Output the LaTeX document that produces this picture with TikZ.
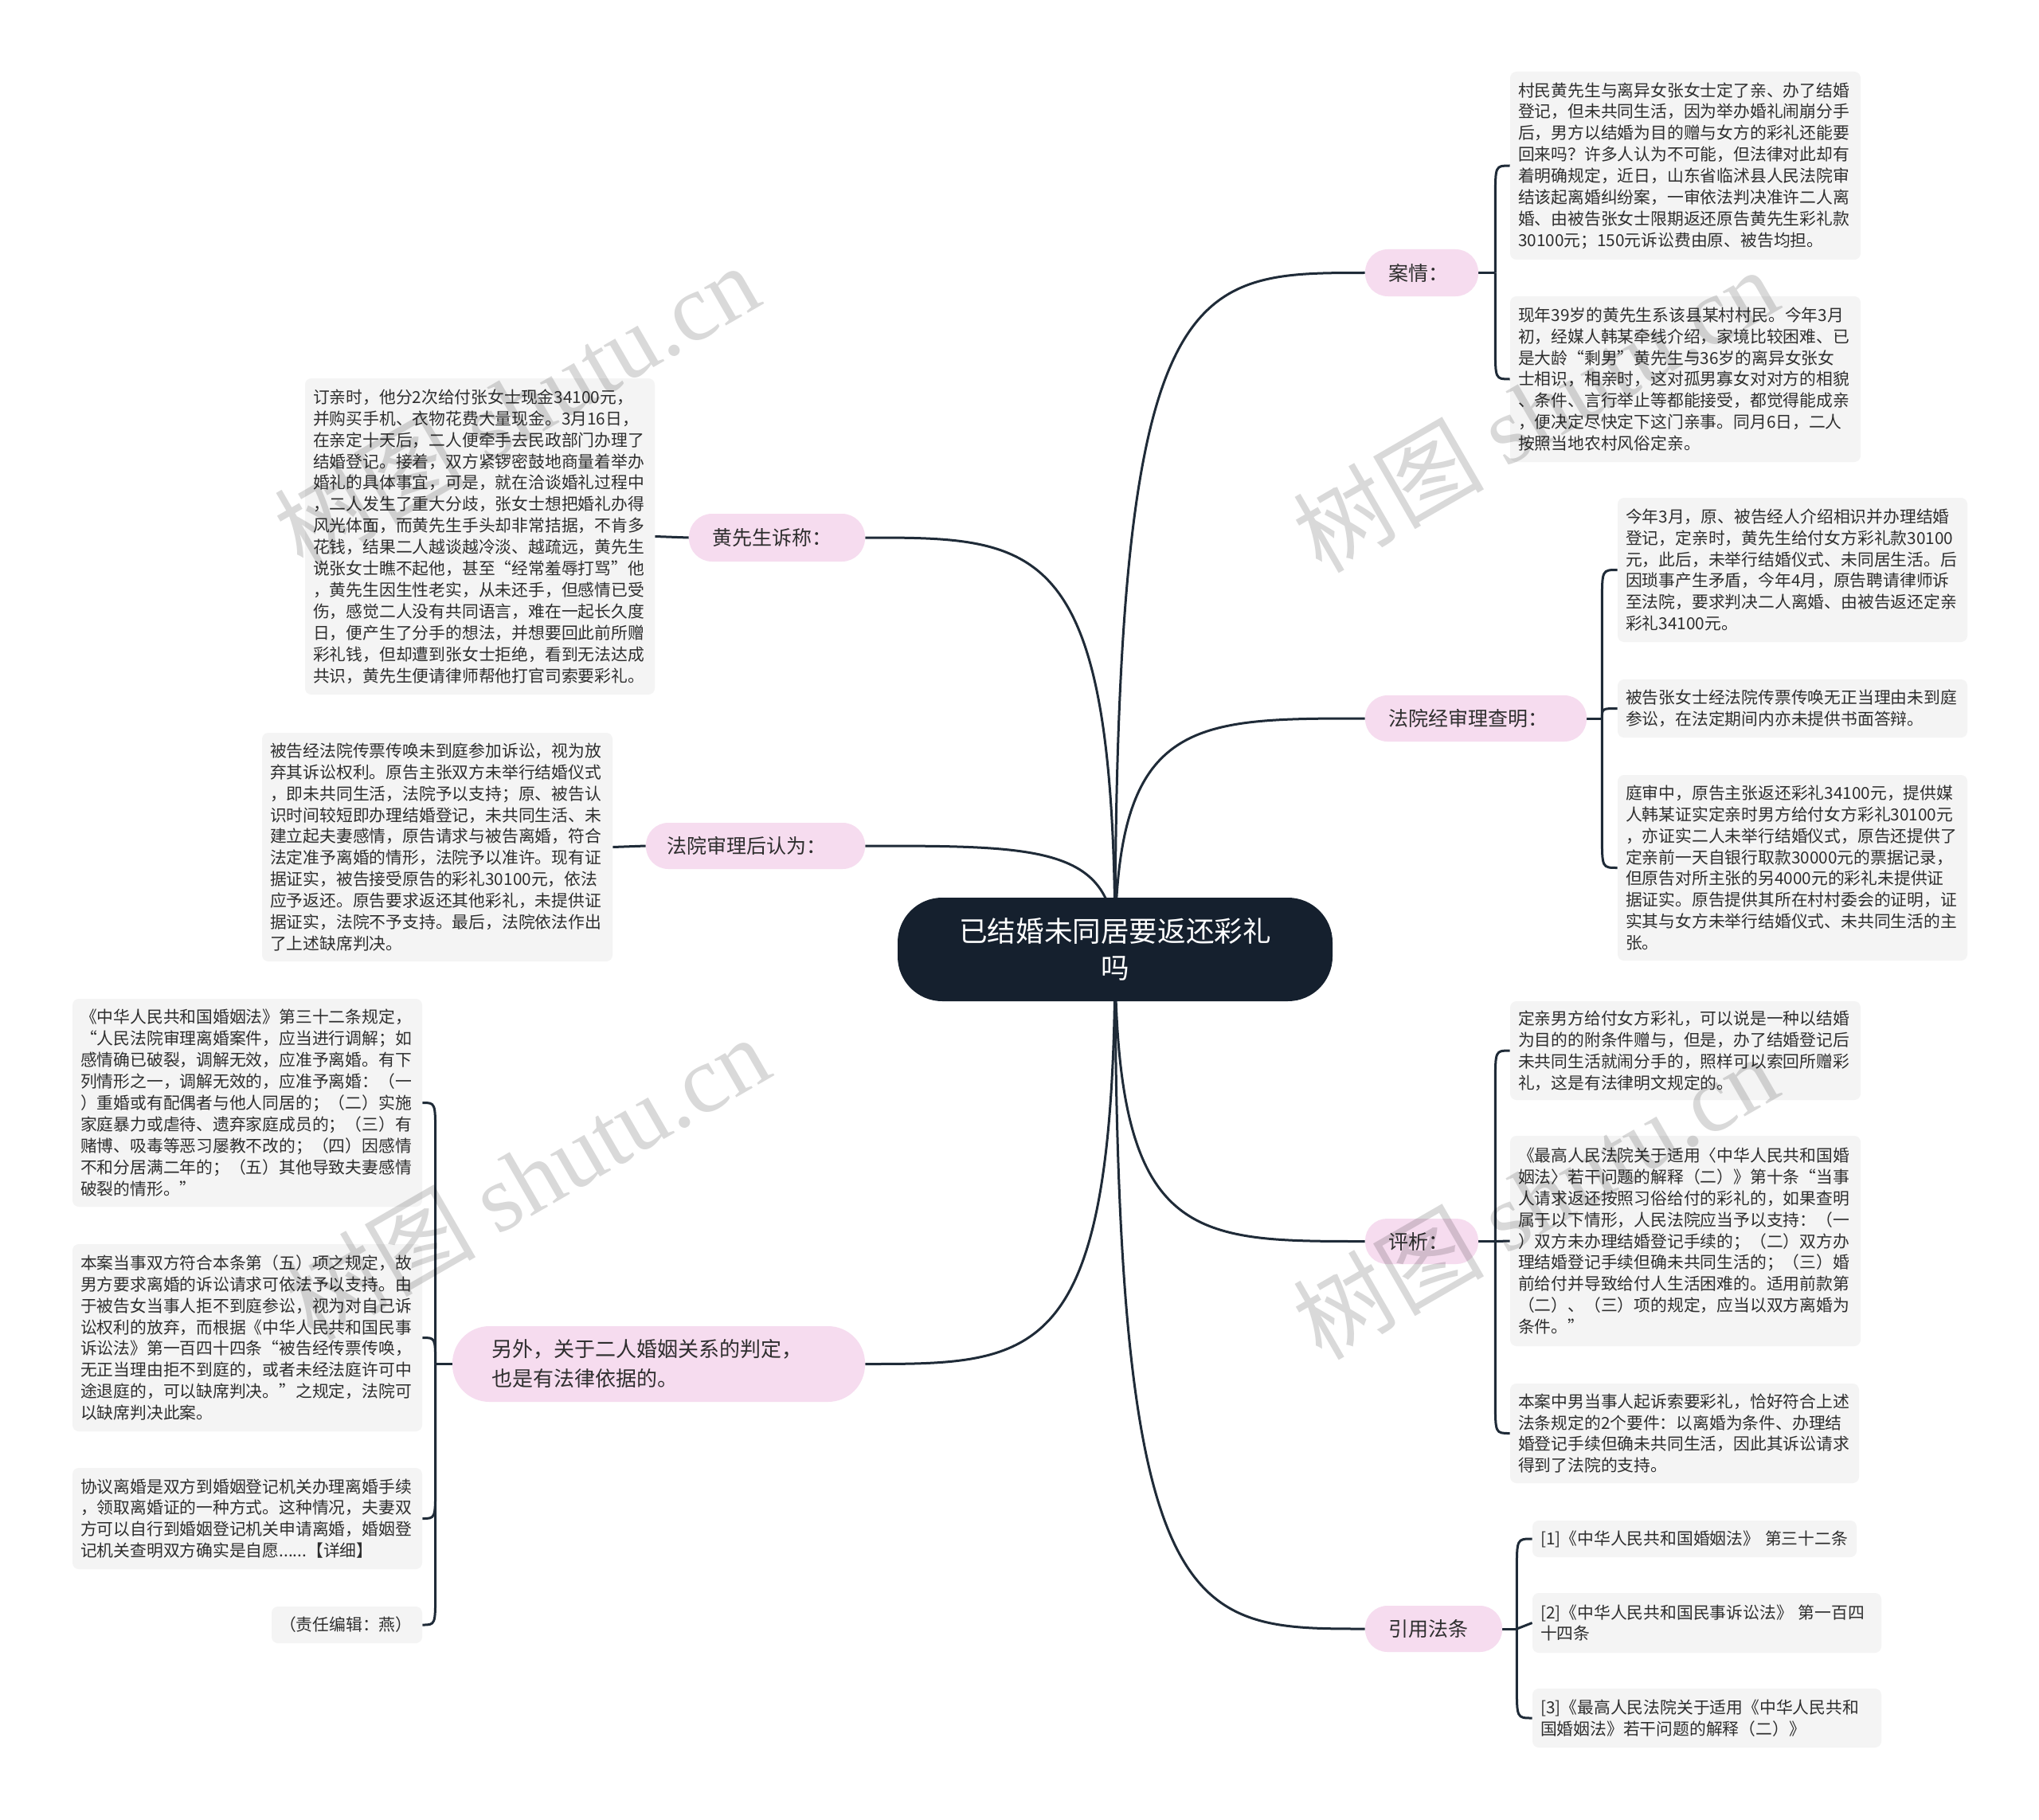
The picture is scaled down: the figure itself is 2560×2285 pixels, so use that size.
\documentclass[tikz,border=0pt]{standalone}
\usepackage{fontspec}
\newfontfamily\cjk{Noto Sans CJK SC}
\newfontfamily\wmserif{Liberation Serif}
\usetikzlibrary{backgrounds,calc}
\definecolor{linec}{HTML}{1F2B38}
\definecolor{rootc}{HTML}{15202E}
\definecolor{pinkc}{HTML}{F6DCEF}
\definecolor{leafc}{HTML}{F4F4F4}
\definecolor{txtc}{HTML}{2E2E2E}
\tikzset{
  leafbox/.style={rectangle, rounded corners=4pt, fill=leafc, inner xsep=5pt, inner ysep=0pt, align=left, text=txtc, font=\cjk\fontsize{10.4}{13.45}\selectfont},
  branchbox/.style={rectangle, fill=pinkc, inner ysep=0pt, align=left, text=txtc, font=\cjk\fontsize{12.5}{18.5}\selectfont},
  rootbox/.style={rectangle, rounded corners=28pt, fill=rootc, text=white, align=center, font=\cjk\fontsize{17.8}{22.9}\selectfont},
  conn/.style={draw=linec, line width=1.5pt},
  wm/.style={rotate=30, text=black, opacity=0.15, inner sep=0pt}
}
\newcommand\leafnode[6]{%
  \pgfmathsetmacro\xxw{(#4-#2)*0.5-10}%
  \pgfmathsetmacro\xxh{(#5-#3)*0.5}%
  \node[leafbox, text width=\xxw pt, minimum height=\xxh pt] (#1) at ({(#2+#4)/2},{(#3+#5)/2}) {#6};}
\newcommand\branchnode[7]{%
  \pgfmathsetmacro\xxw{(#4-#2-2*#6)*0.5}%
  \pgfmathsetmacro\xxh{(#5-#3)*0.5}%
  \pgfmathsetmacro\xxr{(#5-#3)*0.25-0.5}%
  \pgfmathsetmacro\xxp{#6*0.5}%
  \node[branchbox, rounded corners=\xxr pt, inner xsep=\xxp pt, text width=\xxw pt, minimum height=\xxh pt] (#1) at ({(#2+#4)/2},{(#3+#5)/2}) {#7};}
\newcommand\mcurve[2]{\draw[conn] (root.center) .. controls (root.center |- #1.#2) and ($(root.center |- #1.#2)!0.3!(#1.#2)$) .. (#1.#2);}
% leaf above junction / below junction / near
\newcommand\brup[3]{\draw[conn] (#1) -- ($(#1 |- #2.#3)+(0,40)$) .. controls (#1 |- #2.#3) .. (#2.#3);}
\newcommand\brdown[3]{\draw[conn] (#1) -- ($(#1 |- #2.#3)+(0,-40)$) .. controls (#1 |- #2.#3) .. (#2.#3);}
\newcommand\brnear[3]{\draw[conn] (#1) .. controls (#1 |- #2.#3) .. (#2.#3);}
\begin{document}
\begin{tikzpicture}[x=0.5pt, y=-0.5pt]
\useasboundingbox (0,0) rectangle (2560,2285);

% root
\node[rootbox, minimum width=273pt, minimum height=65pt] (root) at (1400,1192) {已结婚未同居要返还彩礼\\吗};

% branches
\branchnode{anq}{1714}{313}{1856}{372}{29}{案情：}
\branchnode{hx}{865}{645}{1086}{705}{29}{黄先生诉称：}
\branchnode{fy}{1714}{873}{1992}{931}{29}{法院经审理查明：}
\branchnode{fs}{811}{1033}{1086}{1091}{26}{法院审理后认为：}
\branchnode{px}{1714}{1530}{1856}{1587}{29}{评析：}
\branchnode{yy}{1714}{2016}{1886}{2074}{29}{引用法条}
\branchnode{lw}{568}{1665}{1086}{1760}{49}{\fontsize{13}{18.8}\selectfont 另外，关于二人婚姻关系的判定，\\也是有法律依据的。}

% leaves right
\leafnode{r1}{1896}{90}{2336}{326}{村民黄先生与离异女张女士定了亲、办了结婚\\登记，但未共同生活，因为举办婚礼闹崩分手\\后，男方以结婚为目的赠与女方的彩礼还能要\\回来吗？许多人认为不可能，但法律对此却有\\着明确规定，近日，山东省临沭县人民法院审\\结该起离婚纠纷案，一审依法判决准许二人离\\婚、由被告张女士限期返还原告黄先生彩礼款\\30100元；150元诉讼费由原、被告均担。}
\leafnode{r2}{1896}{372}{2336}{580}{现年39岁的黄先生系该县某村村民。今年3月\\初，经媒人韩某牵线介绍，家境比较困难、已\\是大龄“剩男”黄先生与36岁的离异女张女\\士相识，相亲时，这对孤男寡女对对方的相貌\\、条件、言行举止等都能接受，都觉得能成亲\\，便决定尽快定下这门亲事。同月6日，二人\\按照当地农村风俗定亲。}
\leafnode{r3}{2031}{625}{2470}{806}{今年3月，原、被告经人介绍相识并办理结婚\\登记，定亲时，黄先生给付女方彩礼款30100\\元，此后，未举行结婚仪式、未同居生活。后\\因琐事产生矛盾，今年4月，原告聘请律师诉\\至法院，要求判决二人离婚、由被告返还定亲\\彩礼34100元。}
\leafnode{r4}{2031}{853}{2470}{926}{被告张女士经法院传票传唤无正当理由未到庭\\参讼，在法定期间内亦未提供书面答辩。}
\leafnode{r5}{2031}{973}{2470}{1206}{庭审中，原告主张返还彩礼34100元，提供媒\\人韩某证实定亲时男方给付女方彩礼30100元\\，亦证实二人未举行结婚仪式，原告还提供了\\定亲前一天自银行取款30000元的票据记录，\\但原告对所主张的另4000元的彩礼未提供证\\据证实。原告提供其所在村村委会的证明，证\\实其与女方未举行结婚仪式、未共同生活的主\\张。}
\leafnode{r6}{1896}{1257}{2336}{1381}{定亲男方给付女方彩礼，可以说是一种以结婚\\为目的的附条件赠与，但是，办了结婚登记后\\未共同生活就闹分手的，照样可以索回所赠彩\\礼，这是有法律明文规定的。}
\leafnode{r7}{1896}{1426}{2336}{1690}{《最高人民法院关于适用〈中华人民共和国婚\\姻法〉若干问题的解释（二）》第十条“当事\\人请求返还按照习俗给付的彩礼的，如果查明\\属于以下情形，人民法院应当予以支持：（一\\）双方未办理结婚登记手续的；（二）双方办\\理结婚登记手续但确未共同生活的；（三）婚\\前给付并导致给付人生活困难的。适用前款第\\（二）、（三）项的规定，应当以双方离婚为\\条件。”}
\leafnode{r8}{1896}{1737}{2334}{1862}{本案中男当事人起诉索要彩礼，恰好符合上述\\法条规定的2个要件：以离婚为条件、办理结\\婚登记手续但确未共同生活，因此其诉讼请求\\得到了法院的支持。}
\leafnode{f1}{1924}{1909}{2331}{1955}{[1]《中华人民共和国婚姻法》~第三十二条}
\leafnode{f2}{1924}{2000}{2362}{2075}{[2]《中华人民共和国民事诉讼法》~第一百四\\十四条}
\leafnode{f3}{1924}{2120}{2362}{2194}{[3]《最高人民法院关于适用《中华人民共和\\国婚姻法》若干问题的解释（二）》}

% leaves left
\leafnode{l1}{383}{475}{822}{872}{订亲时，他分2次给付张女士现金34100元，\\并购买手机、衣物花费大量现金。3月16日，\\在亲定十天后，二人便牵手去民政部门办理了\\结婚登记。接着，双方紧锣密鼓地商量着举办\\婚礼的具体事宜，可是，就在洽谈婚礼过程中\\，二人发生了重大分歧，张女士想把婚礼办得\\风光体面，而黄先生手头却非常拮据，不肯多\\花钱，结果二人越谈越冷淡、越疏远，黄先生\\说张女士瞧不起他，甚至“经常羞辱打骂”他\\，黄先生因生性老实，从未还手，但感情已受\\伤，感觉二人没有共同语言，难在一起长久度\\日，便产生了分手的想法，并想要回此前所赠\\彩礼钱，但却遭到张女士拒绝，看到无法达成\\共识，黄先生便请律师帮他打官司索要彩礼。}
\leafnode{l2}{329}{920}{769}{1207}{被告经法院传票传唤未到庭参加诉讼，视为放\\弃其诉讼权利。原告主张双方未举行结婚仪式\\，即未共同生活，法院予以支持；原、被告认\\识时间较短即办理结婚登记，未共同生活、未\\建立起夫妻感情，原告请求与被告离婚，符合\\法定准予离婚的情形，法院予以准许。现有证\\据证实，被告接受原告的彩礼30100元，依法\\应予返还。原告要求返还其他彩礼，未提供证\\据证实，法院不予支持。最后，法院依法作出\\了上述缺席判决。}
\leafnode{l3}{91}{1254}{530}{1515}{《中华人民共和国婚姻法》第三十二条规定，\\“人民法院审理离婚案件，应当进行调解；如\\感情确已破裂，调解无效，应准予离婚。有下\\列情形之一，调解无效的，应准予离婚：（一\\）重婚或有配偶者与他人同居的；（二）实施\\家庭暴力或虐待、遗弃家庭成员的；（三）有\\赌博、吸毒等恶习屡教不改的；（四）因感情\\不和分居满二年的；（五）其他导致夫妻感情\\破裂的情形。”}
\leafnode{l4}{91}{1562}{530}{1797}{本案当事双方符合本条第（五）项之规定，故\\男方要求离婚的诉讼请求可依法予以支持。由\\于被告女当事人拒不到庭参讼，视为对自己诉\\讼权利的放弃，而根据《中华人民共和国民事\\诉讼法》第一百四十四条“被告经传票传唤，\\无正当理由拒不到庭的，或者未经法庭许可中\\途退庭的，可以缺席判决。”之规定，法院可\\以缺席判决此案。}
\leafnode{l5}{91}{1843}{530}{1970}{协议离婚是双方到婚姻登记机关办理离婚手续\\，领取离婚证的一种方式。这种情况，夫妻双\\方可以自行到婚姻登记机关申请离婚，婚姻登\\记机关查明双方确实是自愿......【详细】}
\leafnode{l6}{341}{2017}{530}{2063}{（责任编辑：燕）}

% junctions
\coordinate (anqj) at ($(anq.east)+(21,0)$);
\coordinate (fyj) at ($(fy.east)+(19,0)$);
\coordinate (pxj) at ($(px.east)+(21,0)$);
\coordinate (yyj) at ($(yy.east)+(18,0)$);
\coordinate (lwj) at ($(lw.west)+(-21,0)$);

\begin{scope}[on background layer]
  \fill[white] (0,0) rectangle (2560,2285);
  \mcurve{anq}{west}
  \mcurve{fy}{west}
  \mcurve{px}{west}
  \mcurve{yy}{west}
  \mcurve{hx}{east}
  \mcurve{fs}{east}
  \mcurve{lw}{east}
  \draw[conn] (hx.west) -- (l1.east);
  \draw[conn] (fs.west) -- (l2.east);
  \draw[conn] (anq.east) -- (anqj);
  \draw[conn] (fy.east) -- (fyj);
  \draw[conn] (px.east) -- (pxj);
  \draw[conn] (yy.east) -- (yyj);
  \draw[conn] (lw.west) -- (lwj);
  \brup{anqj}{r1}{west}
  \brdown{anqj}{r2}{west}
  \brup{fyj}{r3}{west}
  \brnear{fyj}{r4}{west}
  \brdown{fyj}{r5}{west}
  \brup{pxj}{r6}{west}
  \draw[conn] (pxj) -- (r7.west);
  \brdown{pxj}{r8}{west}
  \brup{yyj}{f1}{west}
  \draw[conn] (yyj) -- (f2.west);
  \brdown{yyj}{f3}{west}
  \brup{lwj}{l3}{east}
  \brnear{lwj}{l4}{east}
  \brdown{lwj}{l5}{east}
  \brdown{lwj}{l6}{east}
\end{scope}

% watermarks
\node[wm] (wm1) at (648,509) {\fontsize{60}{60}\selectfont\cjk 树图 \wmserif shutu.cn};
\node[wm] (wm2) at (1927,514) {\fontsize{60}{60}\selectfont\cjk 树图 \wmserif shutu.cn};
\node[wm] (wm3) at (661,1478) {\fontsize{60}{60}\selectfont\cjk 树图 \wmserif shutu.cn};
\node[wm] (wm4) at (1927,1502) {\fontsize{60}{60}\selectfont\cjk 树图 \wmserif shutu.cn};
\end{tikzpicture}
\end{document}
